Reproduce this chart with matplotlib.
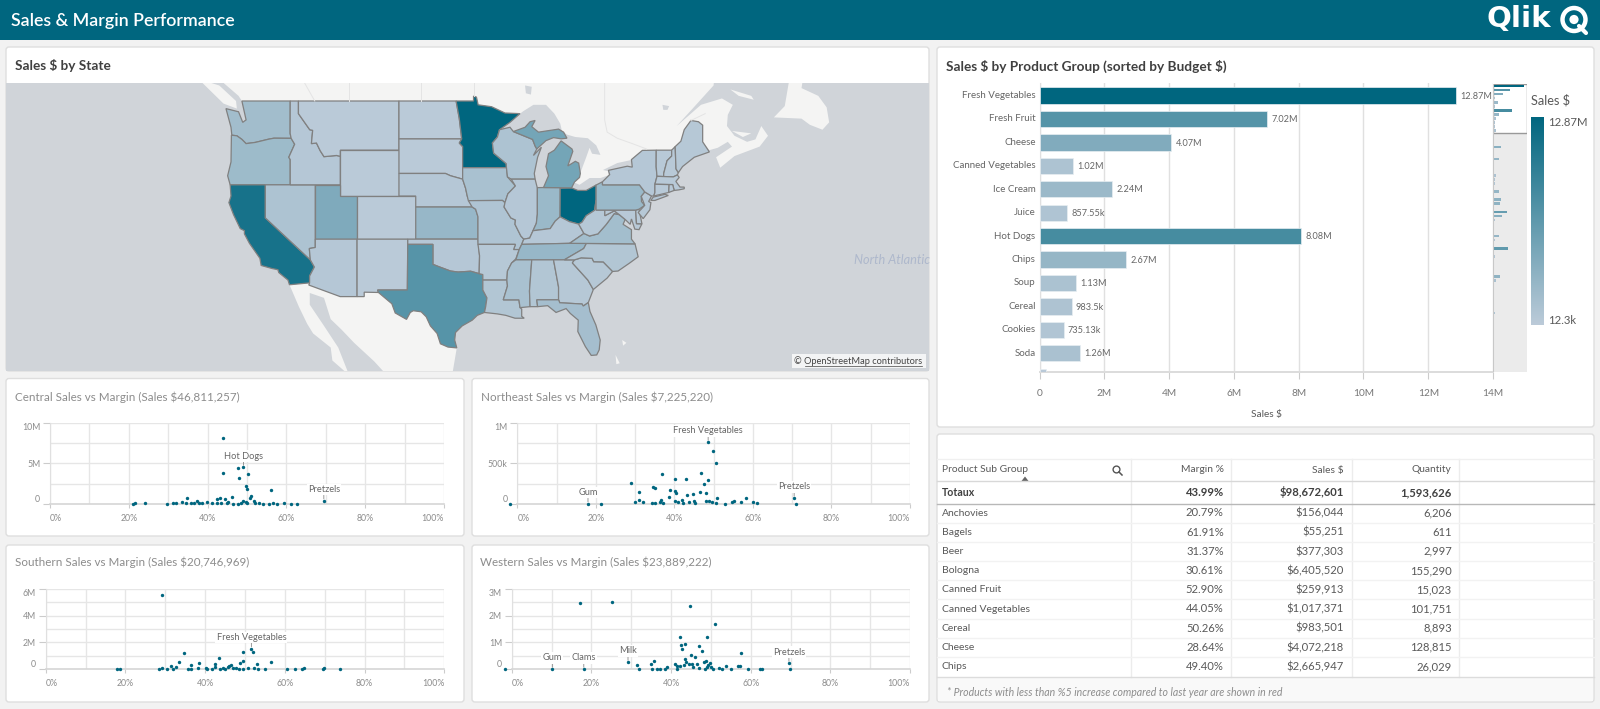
import matplotlib
matplotlib.use('Agg')
import matplotlib.pyplot as plt
from matplotlib.colors import LinearSegmentedColormap, to_rgb
from matplotlib.patches import Circle, FancyBboxPatch, Polygon, Rectangle
import numpy as np

plt.rcParams['font.family'] = ['Lato', 'DejaVu Sans']

W, H = 1600, 709
TEAL = '#00667f'
LIGHT = '#bccbd9'
WATER = '#d0d4d9'
LAND = '#f4f4f3'
TEXT = '#595959'
MAX_SALES = 12.87

# ---- product groups (Sales $, millions)
GROUPS = ['Fresh Vegetables', 'Fresh Fruit', 'Cheese', 'Canned Vegetables', 'Ice Cream', 'Juice',
          'Hot Dogs', 'Chips', 'Soup', 'Cereal', 'Cookies', 'Soda', '']
GROUP_SALES = [12.87, 7.02, 4.07, 1.02, 2.24, 0.85755, 8.08, 2.67, 1.13, 0.9835, 0.73513, 1.26, 0.2]
GROUP_LABELS = ['12.87M', '7.02M', '4.07M', '1.02M', '2.24M', '857.55k', '8.08M', '2.67M', '1.13M',
                '983.5k', '735.13k', '1.26M', '']
# the rows further down, only visible in the mini chart
MINI_REST = [0.1, 0.1, 0.1, 3.5, 0.1, 0.1, 2.66, 0.2, 0.1, 0.1, 1.1, 0.85, 0.7, 0.1, 2.66, 0.1, 3.2, 3.1,
             0.55, 5.9, 3.6, 0.85, 0.2, 0.1, 0.1, 2.66, 0.85, 0.1, 6.3, 0.1, 0.7, 0.1, 0.55, 0.1, 0.1, 3.1,
             1.25, 0.1, 0.02, 0.02, 0.02, 0.25, 0.1, 0.1, 1.0, 0.1, 0.25, 0.02, 0.02, 0.02, 0.02, 0.55,
             0.02, 0.02, 0.02, 0.02, 0.02, 0.1, 0.02]

# ---- scatter panels: margin %, sales in millions
CENTRAL_MARGIN = [44.0, 44.0, 47.8, 49.1, 50.2, 47.9, 49.7, 50.0, 56.0, 69.5, 51.1, 50.7, 46.2, 43.1, 42.4, 44.4,
                  34.8, 49.0, 51.8, 24.1, 21.7, 21.0, 29.6, 31.3, 31.9, 33.6, 34.5, 35.7, 36.5, 37.2, 37.9, 38.5,
                  39.9, 41.1, 42.3, 43.3, 44.8, 45.3, 46.5, 47.8, 48.4, 49.7, 50.0, 52.0, 53.1, 54.1, 55.6, 56.5,
                  57.5, 59.3, 61.1, 62.7]
CENTRAL_SALES = [8.16, 3.81, 4.38, 4.5, 3.73, 3.16, 2.2, 1.8, 1.68, 0.37, 0.94, 0.78, 0.9, 0.78, 0.57, 0.57,
                 0.74, 0.41, 0.37, 0.16, 0.08, 0.0, 0.0, 0.08, 0.08, 0.25, 0.16, 0.08, 0.12, 0.37, 0.16, 0.08,
                 0.2, 0.16, 0.16, 0.16, 0.08, 0.2, 0.04, 0.04, 0.16, 0.25, 0.08, 0.08, 0.12, 0.04, 0.04, 0.16,
                 0.04, 0.08, 0.0, 0.0]
NORTHEAST_MARGIN = [-1.9, 18.0, 21.2, 48.6, 49.9, 50.6, 46.9, 36.9, 40.1, 43.0, 48.6, 47.5, 28.9, 34.5, 35.0, 38.9,
                    40.1, 40.4, 31.0, 46.4, 48.0, 44.8, 43.1, 38.7, 70.5, 70.9, 50.8, 58.2, 36.5, 31.1, 29.9, 32.0,
                    34.2, 35.1, 36.3, 37.2, 40.2, 41.0, 41.9, 42.3, 43.6, 45.1, 45.3, 48.0, 48.9, 49.5, 50.6, 52.8,
                    54.8, 55.3, 57.0, 59.9, 61.1]
NORTHEAST_SALES = [0.0, 0.0, 0.0, 0.758, 0.656, 0.5, 0.385, 0.365, 0.303, 0.303, 0.3, 0.246, 0.254, 0.209, 0.197, 0.168,
                   0.16, 0.139, 0.143, 0.143, 0.139, 0.123, 0.107, 0.086, 0.07, 0.0, 0.07, 0.07, 0.053, 0.045, 0.029,
                   0.025, 0.012, 0.016, 0.025, 0.008, 0.033, 0.02, 0.045, 0.012, 0.025, 0.041, 0.012, 0.033, 0.033,
                   0.02, 0.016, 0.0, 0.029, 0.041, 0.02, 0.029, 0.012]
SOUTHERN_MARGIN = [29.3, 34.7, 51.6, 49.5, 52.0, 43.6, 56.5, 33.4, 49.4, 48.7, 36.5, 38.5, 52.9, 42.5, 46.4, 31.4,
                   32.8, 38.1, 42.4, 17.8, 18.6, 28.3, 29.2, 30.4, 31.9, 35.6, 36.5, 40.2, 41.6, 40.4, 43.7, 44.4,
                   45.0, 45.7, 46.1, 47.1, 47.7, 48.4, 49.6, 50.8, 52.3, 53.3, 55.1, 60.5, 62.6, 64.2, 64.7, 69.5,
                   69.7, 73.9]
SOUTHERN_SALES = [5.5, 1.2, 1.525, 1.325, 1.275, 0.825, 0.575, 0.575, 0.6, 0.5, 0.35, 0.45, 0.4, 0.4, 0.325, 0.225,
                  0.175, 0.1, 0.15, 0.0, 0.0, 0.0, 0.075, 0.0, 0.0, 0.0, 0.0, 0.075, 0.05, 0.0, 0.05, 0.125,
                  0.025, 0.15, 0.225, 0.075, 0.125, 0.05, 0.025, 0.075, 0.1, 0.025, 0.0, 0.0, 0.0, 0.025, 0.075, 0.05,
                  0.075, 0.0]
WESTERN_MARGIN = [-1.8, 10.2, 18.1, 17.1, 25.1, 44.8, 51.0, 42.3, 49.1, 43.5, 42.6, 47.1, 42.8, 47.8, 57.6, 45.0,
                  45.9, 29.2, 35.7, 43.4, 43.8, 48.7, 48.3, 69.6, 69.8, 34.9, 31.5, 31.9, 35.1, 36.4, 37.2, 38.5,
                  38.9, 41.0, 41.4, 42.3, 41.5, 43.3, 44.6, 45.2, 45.4, 46.4, 47.0, 48.5, 49.0, 49.8, 49.4, 50.0,
                  50.5, 52.1, 52.7, 53.8, 55.0, 56.7, 57.3, 59.4, 62.3, 62.9]
WESTERN_SALES = [0.0, 0.0, 0.0, 2.46, 2.5, 2.35, 1.69, 1.19, 1.19, 0.96, 0.89, 0.85, 0.74, 0.68, 0.59, 0.52,
                 0.46, 0.26, 0.32, 0.37, 0.26, 0.31, 0.26, 0.22, 0.0, 0.19, 0.16, 0.02, 0.01, 0.02, 0.02, 0.02,
                 0.09, 0.19, 0.12, 0.12, 0.02, 0.16, 0.21, 0.19, 0.07, 0.2, 0.05, 0.02, 0.1, 0.25, 0.17, 0.07,
                 0.02, 0.05, 0.01, 0.11, 0.02, 0.12, 0.11, 0.0, 0.0, 0.0]

# ---- table
TABLE_HEADER = ['Product Sub Group', 'Margin %', 'Sales $', 'Quantity']
TABLE_TOTALS = ['Totaux', '43.99%', '$98,672,601', '1,593,626']
SUB_GROUPS = ['Anchovies', 'Bagels', 'Beer', 'Bologna', 'Canned Fruit', 'Canned Vegetables', 'Cereal', 'Cheese', 'Chips']
SUB_MARGIN = ['20.79%', '61.91%', '31.37%', '30.61%', '52.90%', '44.05%', '50.26%', '28.64%', '49.40%']
SUB_SALES = ['$156,044', '$55,251', '$377,303', '$6,405,520', '$259,913', '$1,017,371', '$983,501', '$4,072,218', '$2,665,947']
SUB_QTY = ['6,206', '611', '2,997', '155,290', '15,023', '101,751', '8,893', '128,815', '26,029']

# ---- map, outlines in lon/lat and sales in millions
STATE_SALES = {'WA': 1.8, 'OR': 2.1, 'CA': 11.3, 'NV': 1.0, 'ID': 0.5, 'MT': 0.15, 'WY': 0.15, 'UT': 4.2, 'CO': 0.15,
               'AZ': 0.5, 'NM': 0.15, 'ND': 0.15, 'SD': 0.15, 'NE': 0.5, 'KS': 2.5, 'OK': 0.5, 'TX': 7.0, 'MN': 12.87,
               'IA': 1.3, 'MO': 0.9, 'AR': 0.4, 'LA': 0.7, 'WI': 1.0, 'IL': 0.5, 'IN': 2.3, 'OH': 12.87, 'MIL': 4.9,
               'MIU': 4.9, 'KY': 0.5, 'TN': 2.5, 'MS': 1.3, 'AL': 0.7, 'GA': 0.4, 'FL': 1.6, 'SC': 0.4, 'NC': 0.7,
               'VA': 1.7, 'WV': 0.4, 'MD': 0.3, 'DE': 0.3, 'PA': 2.3, 'NJ': 0.4, 'NY': 0.5, 'NYL': 0.5, 'VT': 0.3,
               'NH': 0.3, 'ME': 0.4, 'MA': 0.3, 'CT': 0.3, 'RI': 0.3}
STATES = {
    'WA': [(-124.7, 48.4), (-123.2, 48.15), (-122.7, 47.3), (-122.3, 47.5), (-122.8, 49), (-117.03, 49), (-117.04, 46.4), (-116.92, 45.99), (-118.98, 46), (-119.6, 45.92), (-121.2, 45.65), (-122.3, 45.55), (-122.8, 45.9), (-123.4, 46.2), (-124.0, 46.25), (-124.1, 46.9)],
    'OR': [(-124.05, 46.25), (-123.4, 46.2), (-122.8, 45.9), (-122.3, 45.55), (-121.2, 45.65), (-119.6, 45.92), (-118.98, 46), (-116.92, 45.99), (-116.5, 45.5), (-117.2, 44.4), (-117.03, 44.2), (-117.03, 42), (-124.2, 42), (-124.5, 42.8), (-124.1, 44)],
    'CA': [(-124.2, 42), (-120, 42), (-120, 39), (-114.63, 35), (-114.15, 34.3), (-114.72, 33.4), (-114.72, 32.72), (-117.12, 32.53), (-117.3, 33.0), (-118.4, 33.75), (-118.5, 34.03), (-119.2, 34.15), (-120.5, 34.45), (-120.65, 35.15), (-121.9, 36.6), (-122.5, 37.5), (-122.5, 37.8), (-123.0, 38.0), (-123.8, 39.3), (-124.35, 40.4), (-124.1, 41.0)],
    'NV': [(-120, 42), (-114.04, 42), (-114.04, 36.2), (-114.75, 36.1), (-114.63, 35), (-120, 39)],
    'ID': [(-117.03, 49), (-116.05, 49), (-116.05, 48), (-114.7, 46.7), (-114.35, 46.65), (-114.5, 45.55), (-113.9, 45.6), (-113.45, 44.95), (-113, 44.45), (-111.5, 44.55), (-111.05, 44.48), (-111.05, 42), (-117.03, 42), (-117.03, 44.2), (-117.2, 44.4), (-116.5, 45.5), (-116.92, 45.99), (-117.04, 46.4)],
    'MT': [(-116.05, 49), (-104.05, 49), (-104.05, 45), (-111.05, 45), (-111.05, 44.48), (-111.5, 44.55), (-113, 44.45), (-113.45, 44.95), (-113.9, 45.6), (-114.5, 45.55), (-114.35, 46.65), (-114.7, 46.7), (-116.05, 48)],
    'WY': [(-111.05, 45), (-104.05, 45), (-104.05, 41), (-111.05, 41)],
    'UT': [(-114.04, 42), (-111.05, 42), (-111.05, 41), (-109.05, 41), (-109.05, 37), (-114.04, 37)],
    'CO': [(-109.05, 41), (-102.05, 41), (-102.05, 37), (-109.05, 37)],
    'AZ': [(-114.75, 36.1), (-114.04, 36.2), (-114.04, 37), (-109.05, 37), (-109.05, 31.33), (-111.07, 31.33), (-114.81, 32.5), (-114.72, 32.72), (-114.72, 33.4), (-114.15, 34.3), (-114.63, 35)],
    'NM': [(-109.05, 37), (-103, 37), (-103.05, 32), (-106.6, 32), (-106.5, 31.75), (-108.2, 31.78), (-108.2, 31.33), (-109.05, 31.33)],
    'ND': [(-104.05, 49), (-97.23, 49), (-96.85, 47.6), (-96.56, 45.94), (-104.05, 45.94)],
    'SD': [(-104.05, 45.94), (-96.56, 45.94), (-96.85, 45.6), (-96.45, 45.3), (-96.45, 43.5), (-96.45, 42.5), (-97.9, 42.8), (-98.5, 43), (-104.05, 43)],
    'NE': [(-104.05, 43), (-98.5, 43), (-97.9, 42.8), (-96.45, 42.5), (-96.1, 41.7), (-95.9, 41), (-95.31, 40), (-102.05, 40), (-102.05, 41), (-104.05, 41)],
    'KS': [(-102.05, 40), (-95.31, 40), (-94.9, 39.8), (-94.62, 39.1), (-94.62, 37), (-102.05, 37)],
    'OK': [(-103, 37), (-94.62, 37), (-94.43, 35.4), (-94.48, 33.64), (-95.5, 33.88), (-97, 33.8), (-97.9, 33.9), (-99.2, 34.3), (-100, 34.56), (-100, 36.5), (-103, 36.5)],
    'TX': [(-106.6, 32), (-103.05, 32), (-103, 36.5), (-100, 36.5), (-100, 34.56), (-99.2, 34.3), (-97.9, 33.9), (-97, 33.8), (-95.5, 33.88), (-94.48, 33.64), (-94.04, 33.55), (-94.04, 33), (-94.04, 32), (-93.55, 31.2), (-93.7, 30.3), (-93.85, 29.7), (-94.7, 29.4), (-95.3, 28.9), (-96.5, 28.3), (-97.3, 27.6), (-97.4, 26.8), (-97.15, 25.96), (-98.2, 26.05), (-99.1, 26.4), (-99.5, 27.5), (-100.3, 28.3), (-100.8, 29.25), (-101.4, 29.77), (-102.35, 29.88), (-102.7, 29.7), (-103.15, 28.98), (-104.5, 29.65), (-104.9, 30.6), (-106.5, 31.75)],
    'MN': [(-97.23, 49), (-95.15, 49), (-95.15, 49.38), (-94.8, 49.3), (-94.6, 48.7), (-93.0, 48.55), (-91.4, 48.05), (-89.6, 48), (-90.8, 47.3), (-92.05, 46.7), (-92.3, 46.1), (-92.9, 45.6), (-92.75, 44.75), (-91.25, 43.85), (-91.22, 43.5), (-96.45, 43.5), (-96.45, 45.3), (-96.85, 45.6), (-96.56, 45.94), (-96.85, 47.6)],
    'IA': [(-96.45, 43.5), (-91.22, 43.5), (-91.1, 42.7), (-90.15, 41.9), (-91.05, 41.2), (-91.4, 40.4), (-91.7, 40.6), (-95.77, 40.58), (-95.9, 41), (-96.1, 41.7), (-96.45, 42.5)],
    'MO': [(-95.77, 40.58), (-91.7, 40.6), (-91.4, 40.4), (-91.5, 40), (-90.7, 39.0), (-90.15, 38.8), (-90.2, 38.4), (-89.5, 37.3), (-89.15, 37), (-89.4, 36.5), (-89.7, 36), (-90.37, 36), (-90.15, 36.5), (-94.62, 36.5), (-94.62, 39.1), (-94.9, 39.8), (-95.31, 40)],
    'AR': [(-94.62, 36.5), (-90.15, 36.5), (-90.37, 36), (-89.7, 36), (-90.1, 35.1), (-90.6, 34.7), (-91.1, 33.9), (-91.17, 33), (-94.04, 33), (-94.04, 33.55), (-94.48, 33.64), (-94.43, 35.4)],
    'LA': [(-94.04, 33), (-91.17, 33), (-91.1, 32.4), (-91.6, 31), (-89.73, 31), (-89.6, 30.2), (-89.4, 30.05), (-89.4, 29.3), (-89.1, 29.1), (-90.2, 29.1), (-91.3, 29.4), (-92.3, 29.55), (-93.85, 29.7), (-93.7, 30.3), (-93.55, 31.2), (-94.04, 32)],
    'WI': [(-92.05, 46.7), (-90.8, 46.9), (-90.4, 46.55), (-88.1, 45.9), (-87.8, 45.35), (-87.6, 45.1), (-88, 44.55), (-87.05, 45.25), (-87.5, 44.4), (-87.9, 43), (-87.8, 42.5), (-90.65, 42.5), (-91.1, 42.7), (-91.22, 43.5), (-91.25, 43.85), (-92.75, 44.75), (-92.9, 45.6), (-92.3, 46.1)],
    'IL': [(-90.65, 42.5), (-87.8, 42.5), (-87.53, 41.7), (-87.53, 39.35), (-87.65, 38.5), (-88.05, 37.8), (-88.45, 37.1), (-89.15, 37), (-89.5, 37.3), (-90.2, 38.4), (-90.15, 38.8), (-90.7, 39), (-91.5, 40), (-91.4, 40.4), (-91.05, 41.2), (-90.15, 41.9)],
    'IN': [(-87.53, 41.75), (-86.8, 41.76), (-84.8, 41.76), (-84.82, 39.1), (-85.4, 38.7), (-86, 38), (-87, 37.9), (-88.05, 37.8), (-87.65, 38.5), (-87.53, 39.35)],
    'OH': [(-84.8, 41.7), (-83.45, 41.73), (-82.7, 41.5), (-81.7, 41.5), (-80.52, 41.98), (-80.52, 40.64), (-80.7, 39.7), (-81.7, 39.2), (-82.2, 38.6), (-82.6, 38.42), (-83.7, 38.65), (-84.82, 39.1)],
    'MIL': [(-86.8, 41.76), (-83.45, 41.73), (-83.1, 42.25), (-82.5, 42.65), (-82.4, 43), (-82.6, 43.9), (-83.0, 44.05), (-83.9, 43.65), (-83.3, 44.9), (-83.4, 45.1), (-84.7, 45.78), (-85.5, 45), (-86.2, 44.7), (-86.5, 43.6), (-86.2, 42.8)],
    'MIU': [(-90.4, 46.55), (-89, 46.9), (-88.4, 47.35), (-87.8, 47.45), (-88.2, 46.95), (-87.4, 46.5), (-85, 46.75), (-84.4, 46.5), (-84.0, 46.0), (-84.7, 45.95), (-85.6, 46.05), (-86.5, 45.8), (-87.6, 45.1), (-87.8, 45.35), (-88.1, 45.9)],
    'KY': [(-89.4, 36.5), (-89.15, 37), (-88.45, 37.1), (-88.05, 37.8), (-87, 37.9), (-86, 38), (-85.4, 38.7), (-84.82, 39.1), (-83.7, 38.65), (-82.6, 38.42), (-81.97, 37.54), (-83.68, 36.6)],
    'TN': [(-90.1, 35.0), (-89.7, 36), (-89.4, 36.5), (-83.68, 36.6), (-81.68, 36.59), (-82, 36.1), (-84.32, 35)],
    'MS': [(-91.1, 33.9), (-90.6, 34.7), (-90.1, 35), (-88.2, 35), (-88.47, 31.9), (-88.4, 30.3), (-89.6, 30.2), (-89.73, 31), (-91.6, 31), (-91.1, 32.4), (-91.17, 33)],
    'AL': [(-88.2, 35), (-85.6, 35), (-85, 32.3), (-85.0, 31), (-87.6, 31), (-87.5, 30.3), (-88.4, 30.3), (-88.47, 31.9)],
    'GA': [(-85.6, 35), (-83.1, 35), (-83.35, 34.7), (-81.5, 33), (-80.85, 32.05), (-81.45, 30.72), (-82.05, 30.36), (-82.2, 30.57), (-84.85, 30.7), (-85, 31), (-85, 32.3)],
    'FL': [(-87.6, 31), (-85, 31), (-84.85, 30.7), (-82.2, 30.57), (-82.05, 30.36), (-81.45, 30.72), (-81.25, 29.8), (-80.55, 28.4), (-80.03, 26.8), (-80.15, 25.75), (-80.45, 25.2), (-81.1, 25.15), (-81.8, 26.1), (-82.7, 27.7), (-82.65, 28.9), (-83.6, 29.6), (-84.1, 30.1), (-85.3, 29.7), (-86.3, 30.4), (-87.5, 30.3)],
    'SC': [(-83.35, 34.7), (-83.1, 35), (-82.3, 35.2), (-81, 35.15), (-80.8, 34.82), (-79.67, 34.8), (-78.55, 33.86), (-79.2, 33.2), (-80.85, 32.05), (-81.5, 33)],
    'NC': [(-84.32, 35), (-82, 36.1), (-81.68, 36.59), (-75.87, 36.55), (-75.5, 35.3), (-76.5, 34.7), (-77.9, 33.9), (-78.55, 33.86), (-79.67, 34.8), (-80.8, 34.82), (-81, 35.15), (-82.3, 35.2), (-83.1, 35)],
    'VA': [(-83.68, 36.6), (-81.97, 37.54), (-81.3, 37.3), (-80.3, 37.5), (-79.3, 38.4), (-78.35, 39.4), (-77.75, 39.3), (-77.05, 38.85), (-77.3, 38.4), (-76.3, 37.9), (-76.3, 37), (-75.87, 36.55), (-81.68, 36.59)],
    'WV': [(-82.6, 38.42), (-82.2, 38.6), (-81.7, 39.2), (-80.7, 39.7), (-80.52, 40.64), (-80.52, 39.72), (-79.48, 39.72), (-79.48, 39.2), (-78.35, 39.65), (-77.75, 39.3), (-78.35, 39.4), (-79.3, 38.4), (-80.3, 37.5), (-81.3, 37.3), (-81.97, 37.54)],
    'MD': [(-79.48, 39.72), (-75.79, 39.72), (-75.7, 38.46), (-75.05, 38.45), (-75.4, 37.9), (-75.9, 37.95), (-76.3, 38.9), (-76.45, 38.4), (-77.05, 38.85), (-77.75, 39.3), (-78.35, 39.65), (-79.48, 39.2)],
    'DE': [(-75.79, 39.72), (-75.4, 39.8), (-75.05, 38.45), (-75.7, 38.46)],
    'PA': [(-80.52, 41.98), (-79.76, 42.27), (-79.76, 42), (-75.35, 42), (-74.7, 41.36), (-75.13, 40.97), (-75.1, 40.5), (-74.72, 40.15), (-75.4, 39.8), (-75.79, 39.72), (-80.52, 39.72)],
    'NJ': [(-74.7, 41.36), (-73.9, 41), (-74.25, 40.5), (-73.98, 40.4), (-74.1, 39.75), (-74.9, 38.93), (-75.5, 39.5), (-74.72, 40.15), (-75.13, 40.97)],
    'NY': [(-79.76, 42.27), (-78.9, 42.9), (-79.05, 43.27), (-76.8, 43.63), (-76.2, 43.55), (-76.3, 44.2), (-75, 44.98), (-73.34, 45), (-73.35, 43.6), (-73.25, 42.75), (-73.5, 42.05), (-73.5, 41.3), (-73.65, 41), (-73.9, 41), (-74.7, 41.36), (-75.35, 42), (-79.76, 42)],
    'NYL': [(-74, 40.6), (-73.7, 40.9), (-72.3, 41.15), (-71.9, 41.05), (-73.5, 40.6)],
    'VT': [(-73.34, 45), (-71.5, 45), (-71.5, 44.5), (-72.05, 44.1), (-72.45, 43), (-72.46, 42.73), (-73.25, 42.75), (-73.35, 43.6)],
    'NH': [(-71.5, 45), (-71.08, 45.3), (-70.98, 43.4), (-70.7, 43.07), (-70.82, 42.87), (-71.3, 42.7), (-72.46, 42.73), (-72.45, 43), (-72.05, 44.1), (-71.5, 44.5)],
    'ME': [(-71.08, 45.3), (-70.4, 45.75), (-70, 46.7), (-69.2, 47.45), (-68.3, 47.35), (-67.8, 47.07), (-67.8, 45.7), (-67, 44.85), (-68.8, 44.4), (-70.2, 43.6), (-70.7, 43.07), (-70.98, 43.4)],
    'MA': [(-73.5, 42.05), (-73.25, 42.75), (-71.3, 42.7), (-70.82, 42.87), (-70.6, 42.65), (-71, 42.3), (-70.5, 41.8), (-70.0, 41.8), (-70.0, 41.65), (-70.65, 41.55), (-71.2, 41.5), (-71.38, 42.02)],
    'CT': [(-73.5, 42.05), (-71.8, 42.02), (-71.85, 41.32), (-73.65, 41), (-73.5, 41.3)],
    'RI': [(-71.8, 42.02), (-71.38, 42.02), (-71.2, 41.5), (-71.85, 41.32)],
}
LAND_SHAPES = [
    # Canada, along the border and the lakes, then the Maritimes and St Lawrence
    [(-128, 51), (-127, 50.8), (-125, 50.4), (-123.2, 49.4), (-122.8, 49), (-95.15, 49), (-95.15, 49.38), (-94.8, 49.3), (-94.6, 48.7), (-93, 48.55), (-91.4, 48.05), (-89.6, 48), (-89.2, 48.2), (-88, 48.7), (-86.5, 48.7), (-85.5, 48), (-84.8, 47.2), (-84.6, 46.6), (-84, 46.3), (-83, 46.1), (-81.5, 46), (-80.5, 45.4), (-80, 44.6), (-81, 44.7), (-81.3, 45.2), (-81.7, 44.4), (-82.4, 43.05), (-82.5, 42.6), (-83.1, 42.2), (-82.5, 42), (-81.3, 42.6), (-80, 42.6), (-79, 42.85), (-79.1, 43.2), (-79.7, 43.3), (-78, 43.9), (-76.4, 44.15), (-75.3, 44.85), (-74.7, 45), (-73.34, 45), (-71.5, 45), (-71.08, 45.3), (-70.4, 45.75), (-70, 46.7), (-69.2, 47.45), (-68.3, 47.35), (-67.8, 47.07), (-67.8, 45.7), (-67, 45), (-66, 45.2), (-64.8, 45.7), (-64.3, 45.3), (-66.2, 44.4), (-65.7, 43.5), (-64, 44.5), (-61, 45.3), (-60, 46.2), (-60.8, 47), (-61.5, 45.9), (-62.5, 45.7), (-64, 46.2), (-64.9, 47), (-64.8, 47.9), (-64.2, 48.7), (-65.5, 49.2), (-68, 48.7), (-70.9, 47), (-69, 48.4), (-66.5, 50.2), (-66, 53), (-129, 53)],
    # Newfoundland
    [(-59.3, 47.7), (-58, 48.6), (-57.5, 50.5), (-57, 52), (-55.5, 52), (-56, 50), (-54, 49.4), (-53, 48.5), (-52.7, 47.3), (-53.5, 46.7), (-55, 47.1), (-56, 47.6)],
    # Vancouver Island
    [(-128, 50.7), (-125, 48.8), (-123.4, 48.4), (-123.5, 49), (-125.5, 50.2)],
    # Mexico and Baja
    [(-117.12, 32.53), (-114.72, 32.72), (-114.81, 32.5), (-111.07, 31.33), (-108.2, 31.33), (-108.2, 31.78), (-106.5, 31.75), (-104.9, 30.6), (-104.5, 29.65), (-103.15, 28.98), (-102.7, 29.7), (-102.35, 29.88), (-101.4, 29.77), (-100.8, 29.25), (-100.3, 28.3), (-99.5, 27.5), (-99.1, 26.4), (-98.2, 26.05), (-97.15, 25.96), (-97.7, 23), (-105.5, 23), (-107, 24.5), (-109.4, 26.5), (-110.9, 27.9), (-112.2, 29), (-113, 31.2), (-114.7, 31.7), (-114.7, 30.5), (-113, 28.3), (-111.3, 26), (-110, 23), (-112, 24.6), (-112.2, 26), (-114.3, 27.5), (-115, 28.5), (-116, 30.3)],
    # Bahamas
    [(-78.2, 25.2), (-77.7, 24.3), (-78.1, 24.2)], [(-77.4, 26.8), (-76.9, 26.5), (-77.3, 26.2)],
    # Anticosti, PEI
    [(-64.5, 49.9), (-62, 49.4), (-61.7, 49.1), (-63.5, 49.4)], [(-64.3, 46.6), (-62, 46.4), (-63, 46.1)],
]
LAKE_SHAPES = [
    [(-89, 50.2), (-88.2, 50.1), (-88.3, 49.5), (-88.9, 49.6)],
    [(-72.6, 48.7), (-71.8, 48.6), (-72, 48.3), (-72.5, 48.3)],
]
PROVINCE_LINES = [
    [(-114.1, 49), (-115.5, 50.6), (-116.5, 52)], [(-110, 49), (-110, 53)], [(-101.4, 49), (-101.4, 53)],
    [(-95.15, 49.38), (-95.15, 53)], [(-79.5, 53), (-79.5, 47.5), (-79.2, 46.5), (-78, 46), (-76, 45.5), (-74.5, 45.1)],
    [(-69.2, 47.45), (-67.5, 48)],
]


def px_axes(left, top, right, bottom, **kw):
    return fig.add_axes([left / W, 1 - bottom / H, (right - left) / W, (bottom - top) / H], **kw)


def sales_color(value):
    t = min(value / MAX_SALES, 1)
    a, b = np.array(to_rgb(LIGHT)), np.array(to_rgb(TEAL))
    return tuple(a + (b - a) * t)


def project(points):
    # web mercator, same as the tile layer underneath
    pts = np.radians(np.array(points))
    return np.column_stack([pts[:, 0], np.log(np.tan(np.pi / 4 + pts[:, 1] / 2))])


def card(ax, left, top, right, bottom):
    ax.add_patch(FancyBboxPatch((left, top), right - left, bottom - top, boxstyle='round,pad=0,rounding_size=3',
                                fc='white', ec='#dedede', lw=1))


def draw_scatter(box, margin, sales, y_top, y_ticks, y_labels, labels):
    ax = px_axes(*box, zorder=3)
    ax.set_facecolor('none')
    ax.set_xlim(0, 100)
    ax.set_ylim(0, y_top)
    ax.set_xticks(range(0, 101, 20))
    ax.set_xticks(range(10, 100, 20), minor=True)
    ax.set_xticklabels(['0%', '20%', '40%', '60%', '80%', '100%'])
    ax.set_yticks(y_ticks)
    ax.set_yticks((np.array(y_ticks[:-1]) + np.array(y_ticks[1:])) / 2, minor=True)
    ax.set_yticklabels(y_labels)
    ax.grid(True, which='both', color='#e6e6e6', lw=1)
    ax.set_axisbelow(True)
    for side in ['top', 'right']:
        ax.spines[side].set_visible(False)
    ax.spines['left'].set_color('#e0e0e0')
    ax.spines['bottom'].set_color('#d6d6d6')
    ax.spines['bottom'].set_linewidth(1.2)
    ax.tick_params(which='minor', length=0)
    ax.tick_params(axis='y', which='major', length=5, width=0.8, color='#cccccc', labelsize=6.3, labelcolor='#8c8c8c', pad=2)
    ax.tick_params(axis='x', which='major', length=3, width=0.8, color='#cccccc', labelsize=6.3, labelcolor='#8c8c8c', pad=4)
    ticks = ax.get_xticklabels()
    ticks[0].set_ha('left')
    ticks[-1].set_ha('right')
    ylabs = ax.get_yticklabels()
    ylabs[0].set_va('bottom')
    ylabs[-1].set_va('top')
    ax.scatter(margin, sales, s=6, color=TEAL, linewidths=0, clip_on=False, zorder=4)
    for name, x, y in labels:
        ax.annotate(name, (x, y), xytext=(0, 8.2), textcoords='offset points', ha='center', va='center',
                    fontsize=6.7, color='#666666', zorder=5,
                    bbox=dict(boxstyle='square,pad=0.12', fc='white', ec='none'),
                    arrowprops=dict(arrowstyle='-', color='#888888', lw=0.6, shrinkA=0, shrinkB=1.5))
    return ax


fig = plt.figure(figsize=(W / 100, H / 100), dpi=100, facecolor='#f2f2f2')

# page background, cards and header all live in pixel space
bg = fig.add_axes([0, 0, 1, 1], zorder=0)
bg.set_xlim(0, W)
bg.set_ylim(H, 0)
bg.axis('off')
bg.add_patch(Rectangle((0, 0), W, 40, fc=TEAL, ec='none'))
bg.text(11, 21, 'Sales & Margin Performance', color='white', fontsize=12.8, fontweight='semibold', va='center')

card(bg, 6, 47, 929, 371)
card(bg, 6, 378.5, 464, 536)
card(bg, 472, 378.5, 929, 536)
card(bg, 6, 545, 464, 702)
card(bg, 472, 545, 929, 702)
card(bg, 937, 47, 1594, 427)
card(bg, 937, 434, 1594, 702)

bg.text(15, 66, r'Sales \$ by State', color='#404040', fontsize=9.8, fontweight='bold', va='center')
bg.text(946, 66, r'Sales \$ by Product Group (sorted by Budget \$)', color='#404040', fontsize=9.8, fontweight='bold', va='center')
bg.text(15, 397, r'Central Sales vs Margin (Sales \$46,811,257)', color='#8c8c8c', fontsize=8.4, va='center')
bg.text(481, 397, r'Northeast Sales vs Margin (Sales \$7,225,220)', color='#8c8c8c', fontsize=8.4, va='center')
bg.text(15, 562, r'Southern Sales vs Margin (Sales \$20,746,969)', color='#8c8c8c', fontsize=8.4, va='center')
bg.text(480, 562, r'Western Sales vs Margin (Sales \$23,889,222)', color='#8c8c8c', fontsize=8.4, va='center')

# map
geo = px_axes(6, 83, 929, 371, zorder=2)
geo.set_facecolor(WATER)
geo.set_xlim(-2.6347, -0.7118)
geo.set_ylim(0.4213, 1.0213)
geo.set_xticks([])
geo.set_yticks([])
for side in geo.spines.values():
    side.set_visible(False)
for shape in LAND_SHAPES:
    geo.add_patch(Polygon(project(shape), fc=LAND, ec='none'))
for shape in LAKE_SHAPES:
    geo.add_patch(Polygon(project(shape), fc=WATER, ec='none'))
for line in PROVINCE_LINES:
    xy = project(line)
    geo.plot(xy[:, 0], xy[:, 1], color='#e4e4e4', lw=0.7)
for code, shape in STATES.items():
    geo.add_patch(Polygon(project(shape), fc=sales_color(STATE_SALES[code]), ec='#808080', lw=0.9))

# scatter panels
draw_scatter((50, 422.7, 444, 504), CENTRAL_MARGIN, CENTRAL_SALES, 10, [0, 5, 10], ['0', '5M', '10M'],
             [('Hot Dogs', 49.1, 4.5), ('Pretzels', 69.5, 0.37)])
draw_scatter((517.3, 422.7, 910, 504), NORTHEAST_MARGIN, NORTHEAST_SALES, 1, [0, 0.5, 1], ['0', '500k', '1M'],
             [('Fresh Vegetables', 48.6, 0.758), ('Gum', 18.0, 0.0), ('Pretzels', 70.5, 0.07)])
draw_scatter((45.7, 588.7, 444.3, 669.3), SOUTHERN_MARGIN, SOUTHERN_SALES, 6, [0, 2, 4, 6], ['0', '2M', '4M', '6M'],
             [('Fresh Vegetables', 51.6, 1.525)])
draw_scatter((511.7, 588.7, 910, 669.3), WESTERN_MARGIN, WESTERN_SALES, 3, [0, 1, 2, 3], ['0', '1M', '2M', '3M'],
             [('Gum', 10.2, 0.0), ('Clams', 18.1, 0.0), ('Milk', 29.2, 0.26), ('Pretzels', 69.6, 0.22)])

# bar chart
bars = px_axes(1039.7, 83, 1493, 372, zorder=3)
bars.set_facecolor('none')
bars.set_xlim(0, 14)
bars.set_ylim(11.8, -0.5335)
rows = np.arange(len(GROUPS))
bars.barh(rows, GROUP_SALES, height=0.696, color=[sales_color(v) for v in GROUP_SALES],
          edgecolor='#e8eef2', linewidth=0.5, zorder=3)
bars.set_xticks(range(0, 15, 2))
bars.set_xticklabels(['0', '2M', '4M', '6M', '8M', '10M', '12M', '14M'])
bars.set_yticks(rows[:12])
bars.set_yticklabels(GROUPS[:12], va='center')
bars.grid(True, axis='x', color='#e0e0e0', lw=1)
bars.set_axisbelow(True)
for side in ['top', 'right']:
    bars.spines[side].set_visible(False)
bars.spines['left'].set_color('#e0e0e0')
bars.spines['bottom'].set_color('#dcdcdc')
bars.spines['bottom'].set_linewidth(1.4)
bars.tick_params(axis='y', length=0, labelsize=7.0, labelcolor='#666666', pad=3)
bars.tick_params(axis='x', length=5, width=0.8, color='#cccccc', labelsize=7.3, labelcolor='#777777', pad=7)
bars.set_xlabel(r'Sales \$', fontsize=7.2, color=TEXT, labelpad=9)
for i, (value, text) in enumerate(zip(GROUP_SALES, GROUP_LABELS)):
    if text:
        bars.annotate(text, (value, i), xytext=(3, -0.5), textcoords='offset points', fontsize=6.6,
                      color='#666666', va='center', zorder=4)

# mini chart used as the scroll bar
mini_values = GROUP_SALES[:12] + MINI_REST
mini = px_axes(1493, 84, 1527, 372, zorder=3)
mini.set_facecolor('#ebebeb')
mini.set_xlim(0, 14.25)
mini.set_ylim(len(mini_values) - 0.5, -0.5)
mini.set_xticks([])
mini.set_yticks([])
for side in mini.spines.values():
    side.set_visible(False)
mini.add_patch(Rectangle((0, -0.5), 14.25, 12, fc='white', ec='#999999', lw=1, zorder=1))
mini.barh(range(len(mini_values)), mini_values, height=0.62, color=[sales_color(v) for v in mini_values], zorder=2)
mini.axvline(0, color='#c8c8c8', lw=0.8, zorder=3)

# colour legend
bg.text(1531, 100, r'Sales \$', fontsize=9.2, color=TEXT, va='center')
legend = px_axes(1531, 116.7, 1543.7, 325, zorder=3)
ramp = LinearSegmentedColormap.from_list('sales', [LIGHT, TEAL])
legend.imshow(np.linspace(1, 0, 256)[:, None], aspect='auto', cmap=ramp)
legend.axis('off')
bg.text(1548, 122, '12.87M', fontsize=8.2, color=TEXT, va='center')
bg.text(1548, 320, '12.3k', fontsize=8.2, color=TEXT, va='center')

# table
col_lines = [1131, 1231, 1352, 1459]
right_edges = [1223.7, 1344, 1451.7]
row_y = [513 + 19.2 * i for i in range(len(SUB_GROUPS))]
bg.add_patch(Rectangle((938, 677), 655, 24, fc='#f9f9f9', ec='none'))
fade = LinearSegmentedColormap.from_list('fade', ['#ffffff', '#f1f1f1'])
bg.imshow(np.linspace(0, 1, 32)[:, None], extent=(938, 1593, 677, 657), aspect='auto', cmap=fade, zorder=0.5)
bg.set_xlim(0, W)
bg.set_ylim(H, 0)
for x in col_lines:
    bg.plot([x, x], [458.5, 677], color='#ececec', lw=1)
bg.plot([937, 1594], [458.5, 458.5], color='#f0f0f0', lw=1)
bg.plot([937, 1594], [481, 481], color='#d8d8d8', lw=1)
bg.plot([937, 1594], [503.5, 503.5], color='#b8b8b8', lw=1)
bg.plot([937, 1594], [677, 677], color='#dcdcdc', lw=1)
for y in row_y[:-1]:
    bg.plot([937, 1594], [y + 9.6, y + 9.6], color='#f2f2f2', lw=1)
bg.text(941.7, 470, TABLE_HEADER[0], fontsize=7.4, color=TEXT, va='center')
for x, text in zip(right_edges, TABLE_HEADER[1:]):
    bg.text(x, 470, text.replace('$', r'\$'), fontsize=7.4, color=TEXT, va='center', ha='right')
bg.text(941.7, 492.5, TABLE_TOTALS[0], fontsize=7.6, color='#404040', fontweight='bold', va='center')
for x, text in zip(right_edges, TABLE_TOTALS[1:]):
    bg.text(x, 492.5, text.replace('$', r'\$'), fontsize=8.1, color='#404040', fontweight='bold', va='center', ha='right')
for i, y in enumerate(row_y):
    bg.text(941.7, y, SUB_GROUPS[i], fontsize=7.5, color=TEXT, va='center')
    for x, col in zip(right_edges, [SUB_MARGIN, SUB_SALES, SUB_QTY]):
        bg.text(x, y, col[i].replace('$', r'\$'), fontsize=8.1, color=TEXT, va='center', ha='right')
bg.add_patch(Circle((1116.5, 469.5), 3.4, fc='none', ec='#555555', lw=1))
bg.plot([1119, 1122], [472, 475], color='#555555', lw=1.1)
bg.add_patch(Polygon([(1021.5, 481), (1028.5, 481), (1025, 476.5)], fc='#666666', ec='none'))
bg.text(947, 692, '* Products with less than %5 increase compared to last year are shown in red', fontsize=7.6,
        color='#8c8c8c', style='italic', va='center')

# things on top of the map and the logo
top = fig.add_axes([0, 0, 1, 1], zorder=6)
top.set_xlim(0, W)
top.set_ylim(H, 0)
top.axis('off')
top.patch.set_visible(False)
top.text(854, 260, 'North Atlantic', fontsize=9.2, style='italic', color='#aeb8cc', va='center')
top.add_patch(Rectangle((792, 354), 134, 14, fc='white', ec='none', alpha=0.75))
top.text(794, 361, '© OpenStreetMap contributors', fontsize=6.7, color='#444444', va='center')
top.plot([805, 922], [366, 366], color='#444444', lw=0.5)
top.text(1487, 19, 'Qlik', fontsize=21, color='white', family='DejaVu Sans', fontweight='bold', va='center')
top.add_patch(Circle((1574, 19.5), 11.5, fc='none', ec='white', lw=3.2))
top.add_patch(Circle((1574, 19.5), 4.6, fc='white', ec='none'))
top.plot([1579, 1586], [26, 33], color='white', lw=3, solid_capstyle='round')

fig.savefig('out.png', dpi=100, facecolor=fig.get_facecolor())
plt.close(fig)
